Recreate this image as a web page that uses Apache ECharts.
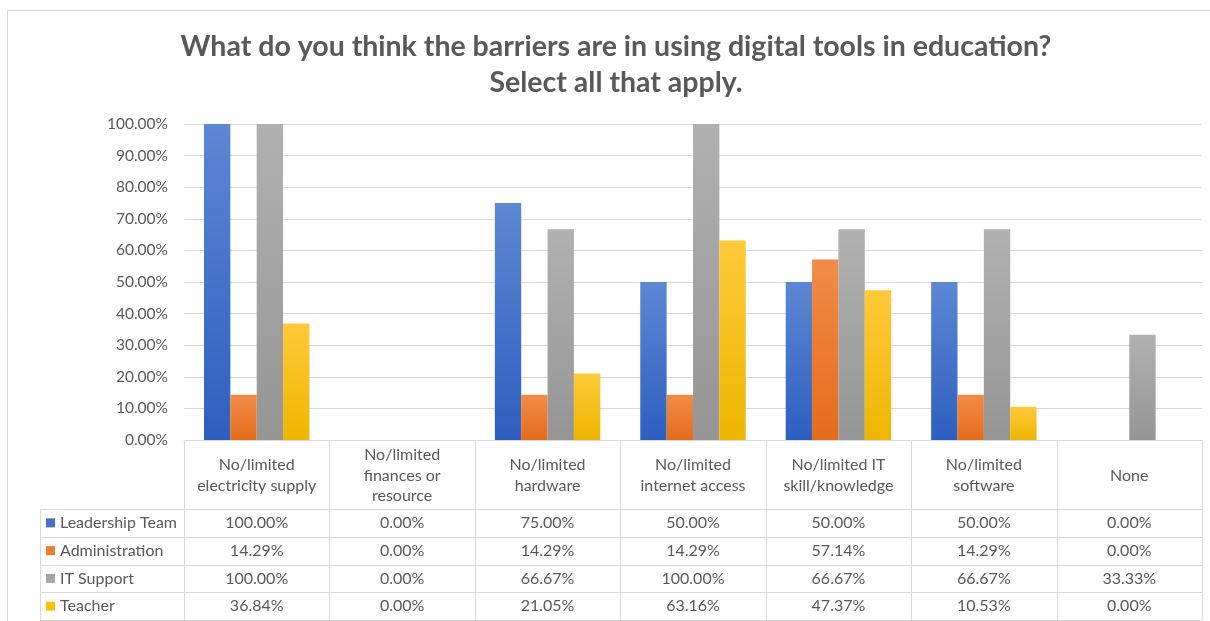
<!DOCTYPE html>
<html>
<head>
<meta charset="utf-8">
<script src="https://cdn.jsdelivr.net/npm/echarts@6/dist/echarts.min.js"></script>
<style>
  html, body { margin: 0; padding: 0; background: #ffffff; }
  #chart { width: 1210px; height: 621px; }
</style>
</head>
<body>
<div id="chart"></div>
<script>
// Survey categories (line breaks follow the table header wrapping)
const categories = [
  'No/limited\nelectricity supply',
  'No/limited\nfinances or\nresource',
  'No/limited\nhardware',
  'No/limited\ninternet access',
  'No/limited IT\nskill/knowledge',
  'No/limited\nsoftware',
  'None'
];

const seriesNames = ['Leadership Team', 'Administration', 'IT Support', 'Teacher'];

// Percent of respondents per group
const leadershipTeam = [100.00, 0.00, 75.00, 50.00, 50.00, 50.00, 0.00];
const administration = [14.29, 0.00, 14.29, 14.29, 57.14, 14.29, 0.00];
const itSupport      = [100.00, 0.00, 66.67, 100.00, 66.67, 66.67, 33.33];
const teacher        = [36.84, 0.00, 21.05, 63.16, 47.37, 10.53, 0.00];

const seriesValues = [leadershipTeam, administration, itSupport, teacher];

const titleLines = [
  'What do you think the barriers are in using digital tools in education?',
  'Select all that apply.'
];

// Base colours and the lighter/darker stops used for the bar fill
const baseColors = ['#4472C4', '#ED7D31', '#A5A5A5', '#FFC000'];
const gradientStops = [
  ['#5d87d3', '#2e5fc0'],
  ['#f18c47', '#e46c1c'],
  ['#b1b1b1', '#959595'],
  ['#ffc93a', '#eeb600']
];

const FONT = 'Lato, "Open Sans", sans-serif';
const TEXT_COLOR = '#595959';
const LINE_COLOR = '#d9d9d9';

const fmtPct = v => v.toFixed(2) + '%';

const chart = echarts.init(document.getElementById('chart'), null, { renderer: 'canvas' });

const option = {
  animation: false,
  backgroundColor: '#ffffff',
  grid: { left: 184, right: 8, top: 124, bottom: 181, containLabel: false },
  xAxis: {
    type: 'category',
    data: categories,
    axisLine: { show: true, lineStyle: { color: LINE_COLOR, width: 1 } },
    axisTick: { show: false },
    axisLabel: { show: false },
    splitLine: { show: false }
  },
  yAxis: {
    type: 'value',
    min: 0,
    max: 100,
    interval: 10,
    axisLine: { show: false },
    axisTick: { show: false },
    axisLabel: {
      formatter: v => fmtPct(v),
      color: TEXT_COLOR,
      fontFamily: FONT,
      fontSize: 15.5,
      margin: 16
    },
    splitLine: { lineStyle: { color: LINE_COLOR, width: 1 } }
  },
  series: seriesNames.map((name, i) => ({
    name,
    type: 'bar',
    data: seriesValues[i],
    barGap: '0%',
    barCategoryGap: '27.5%',
    itemStyle: {
      color: new echarts.graphic.LinearGradient(0, 0, 0, 1, [
        { offset: 0, color: gradientStops[i][0] },
        { offset: 1, color: gradientStops[i][1] }
      ]),
      shadowColor: 'rgba(0,0,0,0.25)',
      shadowBlur: 3,
      shadowOffsetX: 1,
      shadowOffsetY: 0
    }
  }))
};

chart.setOption(option);

// Data table under the plot, aligned to the category axis
function buildTable() {
  const centers = categories.map((_, i) => chart.convertToPixel({ xAxisIndex: 0 }, i));
  const band = centers.length > 1 ? centers[1] - centers[0] : 140;
  const colLeft = centers[0] - band / 2;
  const colRight = centers[centers.length - 1] + band / 2;
  const axisY = chart.convertToPixel({ yAxisIndex: 0 }, 0);

  const headerBottom = 509;
  const rowH = 27.75;
  const labelLeft = 40;
  const tableBottom = headerBottom + rowH * seriesNames.length;
  const cellFont = '16px ' + FONT;

  const els = [];
  const line = (x1, y1, x2, y2) => els.push({
    type: 'line',
    shape: { x1, y1, x2, y2 },
    style: { stroke: LINE_COLOR, lineWidth: 1 },
    silent: true
  });

  // outer chart border
  els.push({
    type: 'rect',
    shape: { x: 7.5, y: 10.5, width: 1230, height: 640 },
    style: { fill: null, stroke: LINE_COLOR, lineWidth: 1 },
    silent: true
  });

  // title
  titleLines.forEach((t, k) => els.push({
    type: 'text',
    x: 616, y: 47 + k * 36,
    style: {
      text: t, fill: TEXT_COLOR, font: 'bold 28.5px ' + FONT,
      align: 'center', verticalAlign: 'middle'
    }
  }));

  // horizontal rules
  line(labelLeft, headerBottom + 0.5, colRight, headerBottom + 0.5);
  for (let r = 1; r <= seriesNames.length; r++) {
    const y = Math.round(headerBottom + rowH * r) + 0.5;
    line(labelLeft, y, colRight, y);
  }
  // vertical rules
  line(labelLeft + 0.5, headerBottom, labelLeft + 0.5, tableBottom);
  for (let c = 0; c <= categories.length; c++) {
    const x = Math.round(colLeft + band * c) + 0.5;
    line(x, axisY, x, tableBottom);
  }

  // header cells
  categories.forEach((cat, c) => els.push({
    type: 'text',
    x: centers[c], y: (axisY + headerBottom) / 2 + 1,
    style: {
      text: cat, fill: TEXT_COLOR, font: cellFont,
      align: 'center', verticalAlign: 'middle', lineHeight: 20.5
    }
  }));

  // series rows: legend key, name and values
  seriesNames.forEach((name, r) => {
    const cy = headerBottom + rowH * (r + 0.5);
    els.push({
      type: 'rect',
      shape: { x: 46, y: cy - 4.5, width: 9, height: 9 },
      style: { fill: baseColors[r] },
      silent: true
    });
    els.push({
      type: 'text',
      x: 60, y: cy,
      style: {
        text: name, fill: TEXT_COLOR, font: cellFont,
        align: 'left', verticalAlign: 'middle'
      }
    });
    seriesValues[r].forEach((v, c) => els.push({
      type: 'text',
      x: centers[c], y: cy,
      style: {
        text: fmtPct(v), fill: TEXT_COLOR, font: cellFont,
        align: 'center', verticalAlign: 'middle'
      }
    }));
  });

  chart.setOption({ graphic: { elements: els } });
}

buildTable();
</script>
</body>
</html>
